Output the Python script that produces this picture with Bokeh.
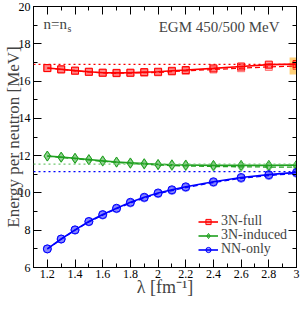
from bokeh.plotting import figure
from bokeh.models import (FixedTicker, LinearAxis, Range1d, Span, Label, Legend, LegendItem)
from bokeh.embed import file_html
from bokeh.resources import INLINE

# ---- data ----
lam = [1.2, 1.3, 1.4, 1.5, 1.6, 1.7, 1.8, 1.9, 2.0, 2.1, 2.2, 2.4, 2.6, 2.8, 3.0]
full_solid = [16.70, 16.63, 16.56, 16.50, 16.45, 16.44, 16.45, 16.48, 16.50, 16.55, 16.59, 16.68, 16.78, 16.88, 16.91]
full_dashed = [16.69, 16.62, 16.55, 16.49, 16.44, 16.42, 16.43, 16.45, 16.47, 16.51, 16.55, 16.62, 16.69, 16.76, 16.81]
induced_solid = [11.98, 11.92, 11.86, 11.79, 11.72, 11.66, 11.61, 11.57, 11.53, 11.51, 11.50, 11.48, 11.48, 11.48, 11.49]
induced_dashed = [11.97, 11.91, 11.84, 11.77, 11.70, 11.64, 11.58, 11.54, 11.50, 11.47, 11.45, 11.42, 11.40, 11.39, 11.38]
nn_solid = [7.00, 7.53, 8.02, 8.47, 8.84, 9.18, 9.50, 9.77, 10.00, 10.17, 10.33, 10.60, 10.83, 10.98, 11.10]
nn_dashed = [6.99, 7.52, 8.00, 8.45, 8.81, 9.15, 9.46, 9.73, 9.96, 10.13, 10.29, 10.56, 10.78, 10.93, 11.05]

ref_full = 16.90
ref_induced = 11.55
ref_nn = 11.14

band_left, band_right = 2.95, 3.05
band_bottom, band_top = 16.35, 17.27

x_ticks = [1.2, 1.4, 1.6, 1.8, 2.0, 2.2, 2.4, 2.6, 2.8, 3.0]
x_tick_labels = ["1.2", "1.4", "1.6", "1.8", "2", "2.2", "2.4", "2.6", "2.8", "3"]
x_minor = [1.1, 1.3, 1.5, 1.7, 1.9, 2.1, 2.3, 2.5, 2.7, 2.9]
y_ticks = [6, 8, 10, 12, 14, 16, 18, 20]
y_tick_labels = ["6", "8", "10", "12", "14", "16", "18", "20"]
y_minor = [7, 9, 11, 13, 15, 17, 19]

labels = ["3N-full", "3N-induced", "NN-only"]

RED = "#ff0000"
GREEN = "#20a020"
GREEN_DOT = "#70c870"
BLUE = "#0000ff"
FONT = "Liberation Serif"

p = figure(width=300, height=303, x_range=Range1d(1.1, 3.0), y_range=Range1d(6, 20),
           output_backend="svg", toolbar_location=None,
           min_border_left=26, min_border_right=4, min_border_top=6, min_border_bottom=36)
p.grid.visible = False
p.outline_line_color = "black"
p.outline_line_width = 1
p.background_fill_color = "white"
p.border_fill_color = "white"

def style_axis(ax, ticks, tick_labels, minor, show_labels=True):
    ax.ticker = FixedTicker(ticks=ticks, minor_ticks=minor)
    ax.major_tick_in = 8
    ax.major_tick_out = 0
    ax.minor_tick_in = 4
    ax.minor_tick_out = 0
    ax.axis_line_color = "black"
    ax.major_tick_line_color = "black"
    ax.minor_tick_line_color = "black"
    ax.major_label_text_font = FONT
    ax.major_label_text_color = "black"
    if show_labels:
        ax.major_label_overrides = dict(zip(ticks, tick_labels))
        ax.major_label_text_font_size = "12px"
        ax.major_label_standoff = 2
    else:
        ax.major_label_overrides = {t: "" for t in ticks}
        ax.major_label_text_font_size = "1px"
        ax.major_label_standoff = 0

xa = p.xaxis[0]
style_axis(xa, x_ticks, x_tick_labels, x_minor)
xa.axis_label = "\u03bb [fm\u207b\u00b9]"
xa.axis_label_text_font = FONT
xa.axis_label_text_font_style = "normal"
xa.axis_label_text_font_size = "18px"
xa.axis_label_standoff = -4

ya = p.yaxis[0]
style_axis(ya, y_ticks, y_tick_labels, y_minor)
ya.major_label_standoff = 3
ya.axis_label = "Energy per neutron [MeV]"
ya.axis_label_text_font = FONT
ya.axis_label_text_font_style = "normal"
ya.axis_label_text_font_size = "17px"
ya.axis_label_standoff = -7

ra = LinearAxis()
style_axis(ra, y_ticks, y_tick_labels, y_minor, show_labels=False)
p.add_layout(ra, "right")
ta = LinearAxis()
style_axis(ta, x_ticks, x_tick_labels, x_minor, show_labels=False)
p.add_layout(ta, "above")

# uncertainty band
p.quad(left=[band_left], right=[band_right], bottom=[band_bottom], top=[band_top],
       fill_color="#ffb020", fill_alpha=0.6, line_color=None)

# reference dotted lines
for loc, col in [(ref_full, RED), (ref_induced, GREEN_DOT), (ref_nn, BLUE)]:
    p.add_layout(Span(location=loc, dimension="width", line_color=col,
                      line_dash="2 3", line_width=1.3))

series = [
    (full_solid, full_dashed, RED, "square", 7),
    (induced_solid, induced_dashed, GREEN, "diamond", 10),
    (nn_solid, nn_dashed, BLUE, "circle", 8),
]
legend_y = [38, 24, 10]
for (sol, das, col, mk, sz), lab, ly in zip(series, labels, legend_y):
    p.line(lam, das, line_color=col, line_width=1.3, line_dash="5 3")
    p.scatter(lam, das, marker=mk, size=sz, line_color=col, line_alpha=0.5,
              fill_color=col, fill_alpha=0.2)
    rl = p.line(lam, sol, line_color=col, line_width=1.6)
    rm = p.scatter(lam, sol, marker=mk, size=sz, line_color=col, line_width=1,
                   fill_color=col, fill_alpha=0.35)
    lg = Legend(items=[LegendItem(label=lab, renderers=[rl, rm])], location=(165, ly),
                border_line_color=None, background_fill_alpha=0,
                padding=0, margin=0, spacing=0,
                glyph_width=20, glyph_height=13, label_height=13,
                label_standoff=3,
                label_text_font=FONT, label_text_font_size="14px")
    p.add_layout(lg, "center")

# annotations
p.add_layout(Label(x=1.1, y=20, x_offset=10, y_offset=-17, text="n=n",
                   text_font=FONT, text_font_size="15px", text_baseline="alphabetic"))
p.add_layout(Label(x=1.1, y=20, x_offset=34, y_offset=-22, text="s",
                   text_font=FONT, text_font_size="10px", text_baseline="alphabetic"))
p.add_layout(Label(x=3.0, y=20, x_offset=-17, y_offset=-20, text="EGM 450/500 MeV",
                   text_font=FONT, text_font_size="15px", text_align="right",
                   text_baseline="alphabetic"))

open("out.html", "w").write(file_html(p, INLINE))
